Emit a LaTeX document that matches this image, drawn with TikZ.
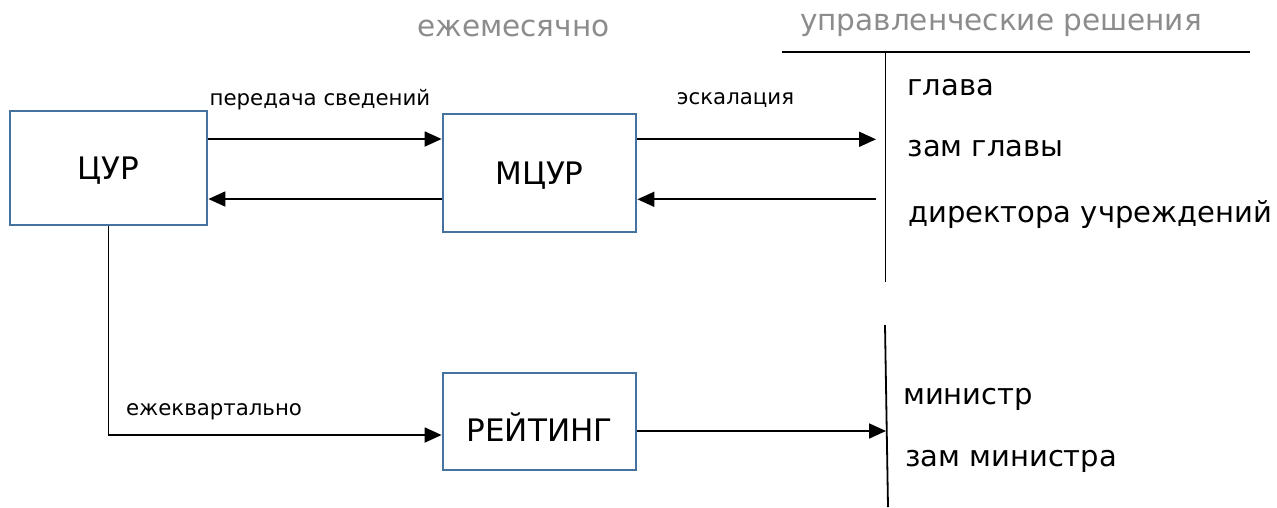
\documentclass[tikz,border=0pt]{standalone}
\usepackage{fontspec}
\setmainfont{DejaVu Sans}
\usetikzlibrary{arrows.meta}
\definecolor{boxblue}{HTML}{45729F}
\definecolor{lbl}{HTML}{8C8C8C}
\tikzset{
  box/.style={draw=boxblue, line width=2.8pt, minimum width=#1, inner sep=0pt,
    text height=22.6pt, text depth=0pt, font=\fontsize{31}{34}\selectfont},
  arr/.style={draw=black, line width=1.8pt, -{Triangle[length=17pt,width=15pt]}},
  plain/.style={draw=black, line width=1.8pt},
  lab/.style={anchor=base, font=\fontsize{21.3}{24}\selectfont, inner sep=0pt},
  item/.style={anchor=base west, font=\fontsize{29}{32}\selectfont, inner sep=0pt},
  head/.style={anchor=base, font=\fontsize{29.5}{32}\selectfont, text=lbl, inner sep=0pt}
}
\begin{document}
\begin{tikzpicture}[x=1pt,y=-1pt]
\useasboundingbox[fill=white] (0,0) rectangle (1277,507);
\node[box=197pt, minimum height=114pt] (cur) at (108.5,168) {ЦУР};
\node[box=193pt, minimum height=118pt] (mcur) at (539.5,173) {МЦУР};
\node[box=193pt, minimum height=97pt, text height=39.6pt] (rating) at (539.5,421.5) {РЕЙТИНГ};
\node[head] (monthly) at (513.5,36) {ежемесячно};
\node[head] (decisions) at (1001,30.5) {управленческие решения};
\node[lab] (transfer) at (320,105) {передача сведений};
\node[lab] (escal) at (735.5,104) {эскалация};
\node[lab] (quarter) at (214,415) {ежеквартально};
\node[item] (glava) at (907.5,95.7) {глава};
\node[item] (zamglava) at (907.5,156.7) {зам главы};
\node[item] (dir) at (908,222) {директора учреждений};
\node[item] (min) at (903,404) {министр};
\node[item] (zammin) at (905,466.7) {зам министра};
\coordinate (hl) at (782,52);
\coordinate (hr) at (1250,52);
\coordinate (v1t) at (885.5,52);
\coordinate (v1b) at (885.5,282);
\coordinate (v2t) at (885,325);
\coordinate (v2b) at (888,507);
\coordinate (escin) at (876,139.3);
\coordinate (escout) at (876,199.3);
\coordinate (rateout) at (886,431);
\draw[plain] (hl) -- (hr);
\draw[plain] (v1t) -- (v1b);
\draw[plain] (v2t) -- (v2b);
\draw[arr] ([yshift=29pt]cur.east) -- ([yshift=29pt]cur.east -| mcur.west);
\draw[arr] ([yshift=-31pt]cur.east -| mcur.west) -- ([yshift=-31pt]cur.east);
\draw[arr] (escin -| mcur.east) -- (escin);
\draw[arr] (escout) -- (escout -| mcur.east);
\draw[arr] (cur.south) |- ([yshift=-13.5pt]rating.west);
\draw[arr] (rateout -| rating.east) -- (rateout);
\end{tikzpicture}
\end{document}
